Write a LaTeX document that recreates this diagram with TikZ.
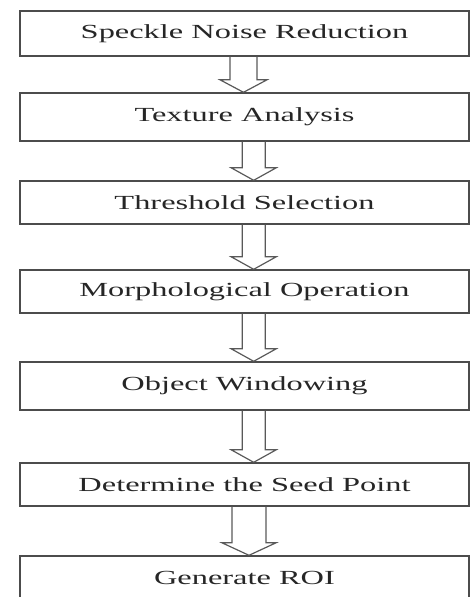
\documentclass[tikz,border=0pt]{standalone}
\usepackage{fontspec}
\setmainfont{Liberation Serif}
\usepackage{graphicx}
\usetikzlibrary{calc}

% wide text, the letters are stretched sideways
\newcommand{\widetext}[1]{\scalebox{1.62}[1]{#1}}
% hollow block arrow: from, to, x shift, shaft half width, head half width
\newcommand{\flowarrow}[5]{%
  \draw[hollow] ($(#1.south)+(#3-#4,0)$) -- ($(#2.north)+(#3-#4,12.5)$)
    -- ($(#2.north)+(#3-#5,12.5)$) -- ($(#2.north)+(#3,0)$)
    -- ($(#2.north)+(#3+#5,12.5)$) -- ($(#2.north)+(#3+#4,12.5)$)
    -- ($(#1.south)+(#3+#4,0)$);}

\begin{document}
\begin{tikzpicture}[x=1pt,y=1pt,
    stagebox/.style={rectangle, draw=black!70, line width=1.4pt, minimum width=449pt,
      inner sep=0pt, text=black!85, font=\fontsize{20}{24}\selectfont},
    hollow/.style={draw=black!65, line width=1.2pt, line join=miter}]
    \clip (0,0) rectangle (470,-597);

    \node[stagebox, minimum height=45pt] (noise)     at (244.5,-33.5) {\widetext{Speckle Noise Reduction}};
    \node[stagebox, minimum height=48pt] (texture)   at (244.5,-117)  {\widetext{Texture Analysis}};
    \node[stagebox, minimum height=43pt] (threshold) at (244.5,-202.5){\widetext{Threshold Selection}};
    \node[stagebox, minimum height=43pt] (morph)     at (244.5,-291.5){\widetext{Morphological Operation}};
    \node[stagebox, minimum height=48pt] (window)    at (244.5,-386)  {\widetext{Object Windowing}};
    \node[stagebox, minimum height=43pt] (seed)      at (244.5,-484.5){\widetext{Determine the Seed Point}};
    \node[stagebox, minimum height=44pt] (roi)       at (244.5,-578)  {\widetext{Generate ROI}};

    \flowarrow{noise}{texture}{-1}{13.5}{23.5}
    \flowarrow{texture}{threshold}{9.2}{11.5}{22.5}
    \flowarrow{threshold}{morph}{9.2}{11.5}{22.5}
    \flowarrow{morph}{window}{9.2}{11.5}{22.5}
    \flowarrow{window}{seed}{9.2}{11.5}{22.5}
    \flowarrow{seed}{roi}{4.5}{17}{27}
\end{tikzpicture}
\end{document}
